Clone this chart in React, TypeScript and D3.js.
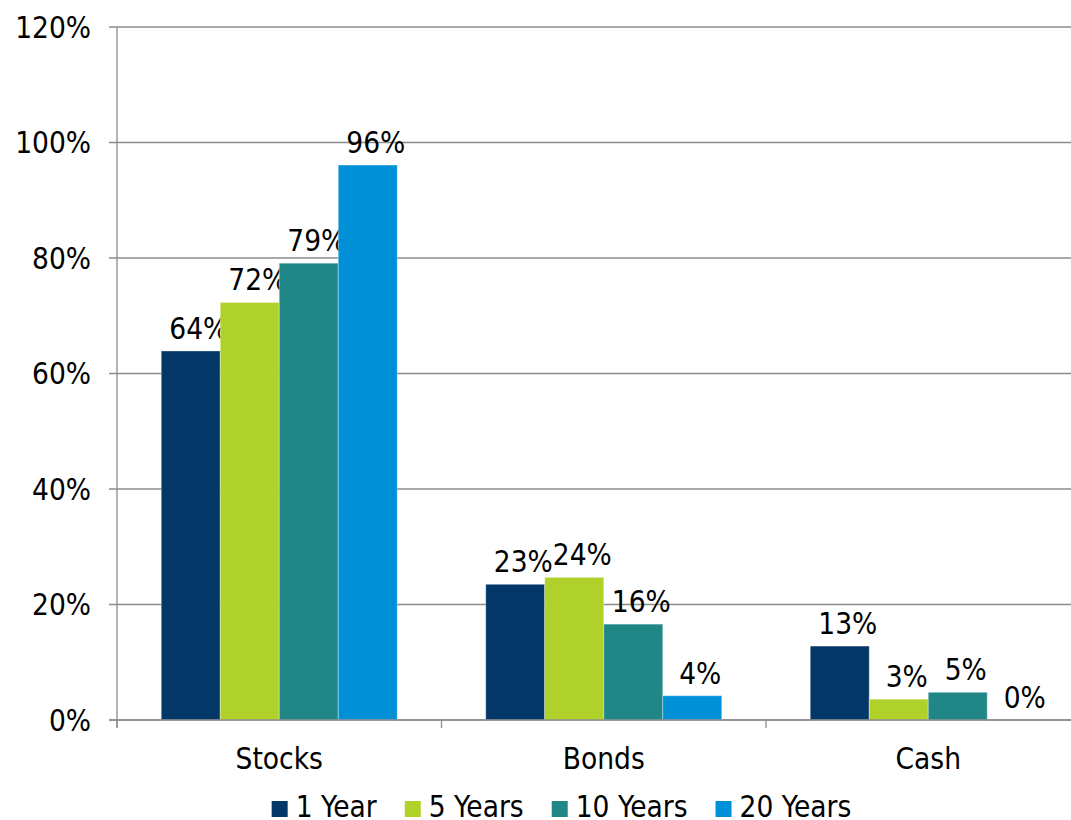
import React, { useEffect, useRef } from "react";
import * as d3 from "d3";

const categories = ["Stocks", "Bonds", "Cash"];
const seriesNames = ["1 Year", "5 Years", "10 Years", "20 Years"];
const seriesColors = ["#023767", "#AFD12A", "#218786", "#0090D8"];
const values1Y = [63.9, 23.5, 12.8];
const values5Y = [72.3, 24.7, 3.6];
const values10Y = [79.1, 16.6, 4.8];
const values20Y = [96.1, 4.2, 0];
const valueLabels = [
  ["64%", "23%", "13%"],
  ["72%", "24%", "3%"],
  ["79%", "16%", "5%"],
  ["96%", "4%", "0%"],
];
const yTicks = [0, 20, 40, 60, 80, 100, 120];

const W = 1071;
const H = 820;
const FONT = "'DejaVu Sans Condensed', 'DejaVu Sans', sans-serif";
const FS = 29.5;

export default function App() {
  const ref = useRef<SVGSVGElement>(null);

  useEffect(() => {
    const svg = d3.select(ref.current);
    svg.selectAll("*").remove();
    const left = 117, right = 1090.5, top = 27, bottom = 720;
    const series = [values1Y, values5Y, values10Y, values20Y];

    const x = d3.scaleBand().domain(categories).range([left, right]).paddingInner(0).paddingOuter(0);
    const inner = d3.scaleBand().domain(seriesNames).range([0, x.bandwidth()]).paddingInner(0).paddingOuter(0.75);
    const y = d3.scaleLinear().domain([0, 120]).range([bottom, top]);

    // gridlines
    svg.append("g").selectAll("line").data(yTicks).join("line")
      .attr("x1", left - 8).attr("x2", W)
      .attr("y1", d => y(d)).attr("y2", d => y(d))
      .attr("stroke", "#8c8c8c").attr("stroke-width", 1.3);

    // y labels
    svg.append("g").selectAll("text").data(yTicks).join("text")
      .attr("x", 91).attr("y", d => y(d) + 10.5)
      .attr("text-anchor", "end")
      .attr("font-family", FONT).attr("font-size", FS).attr("fill", "#000")
      .text(d => d + "%");

    // y axis line
    svg.append("line").attr("x1", left).attr("x2", left).attr("y1", top).attr("y2", bottom + 8)
      .attr("stroke", "#8c8c8c").attr("stroke-width", 1.3);

    // category ticks
    const catTicks = categories.map(c => x(c)!);
    svg.append("g").selectAll("line").data(catTicks).join("line")
      .attr("x1", d => d).attr("x2", d => d).attr("y1", bottom).attr("y2", bottom + 8)
      .attr("stroke", "#8c8c8c").attr("stroke-width", 1.3);

    // bars
    series.forEach((vals, si) => {
      const g = svg.append("g");
      g.selectAll("rect").data(vals).join("rect")
        .attr("x", (d, i) => x(categories[i])! + inner(seriesNames[si])!)
        .attr("y", d => y(d))
        .attr("width", inner.bandwidth())
        .attr("height", d => bottom - y(d))
        .attr("fill", seriesColors[si])
        .attr("stroke", "rgba(255,255,255,0.35)").attr("stroke-width", 1);
      g.selectAll("text").data(vals).join("text")
        .attr("x", (d, i) => x(categories[i])! + inner(seriesNames[si])! + inner.bandwidth() / 2 + 8)
        .attr("y", d => y(d) - 12)
        .attr("text-anchor", "middle")
        .attr("font-family", FONT).attr("font-size", FS).attr("fill", "#000")
        .text((d, i) => valueLabels[si][i]);
    });

    // redraw baseline on top
    svg.append("line").attr("x1", left - 8).attr("x2", W).attr("y1", bottom).attr("y2", bottom)
      .attr("stroke", "#8c8c8c").attr("stroke-width", 1.3);

    // category labels
    svg.append("g").selectAll("text").data(categories).join("text")
      .attr("x", d => x(d)! + x.bandwidth() / 2)
      .attr("y", 769)
      .attr("text-anchor", "middle")
      .attr("font-family", FONT).attr("font-size", FS).attr("fill", "#000")
      .text(d => d);

    // legend
    const lg = svg.append("g");
    let cx = 0;
    const sq = 16, gapSq = 8, gapItem = 28;
    seriesNames.forEach((name, i) => {
      lg.append("rect").attr("x", cx).attr("y", 801).attr("width", sq).attr("height", sq)
        .attr("fill", seriesColors[i]);
      const t = lg.append("text").attr("x", cx + sq + gapSq).attr("y", 817)
        .attr("font-family", FONT).attr("font-size", FS).attr("fill", "#000").text(name);
      const w = (t.node() as SVGTextElement).getComputedTextLength();
      cx += sq + gapSq + w + gapItem;
    });
    const total = cx - gapItem;
    lg.attr("transform", `translate(${(273 + 850) / 2 - total / 2},0)`);
  }, []);

  return (
    <svg ref={ref} width={W} height={H} style={{ position: "absolute", left: 0, top: 0, background: "#fff" }} />
  );
}
